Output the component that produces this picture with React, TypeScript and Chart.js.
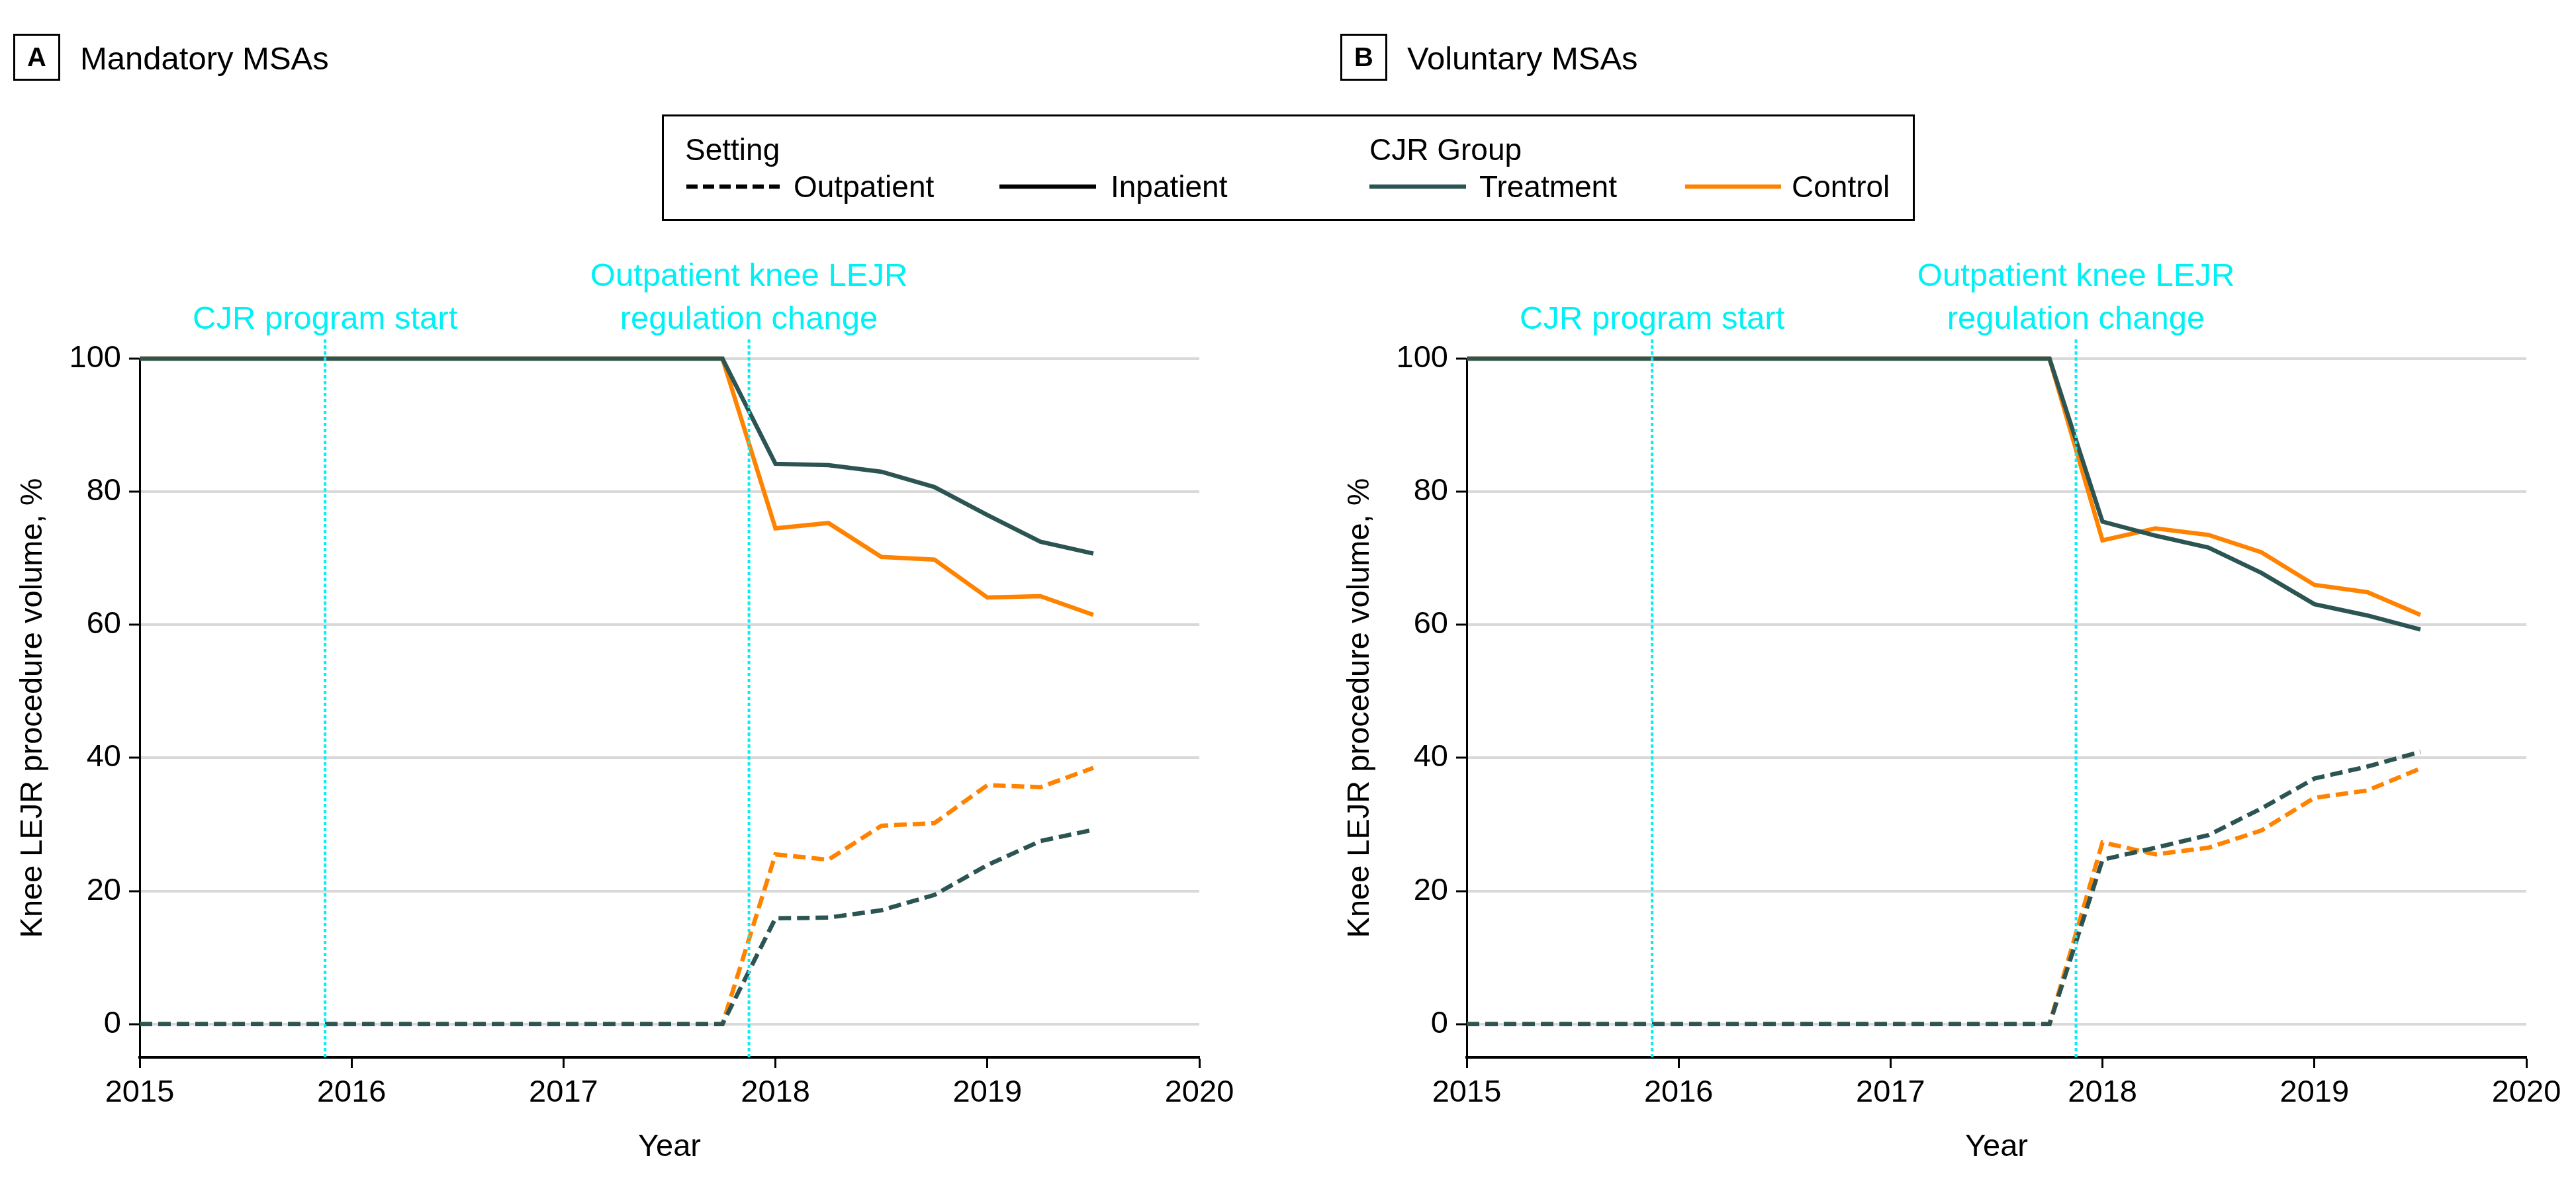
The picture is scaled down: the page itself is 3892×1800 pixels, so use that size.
import React, { useEffect, useRef } from "react";
import { Chart, registerables } from "chart.js";

Chart.register(...registerables);

const FONT = '"Liberation Sans", Arial, sans-serif';
const TEAL = "#2b5452";
const ORANGE = "#ff8300";
const CYAN = "#00f0f5";
const GRID = "#d9d9d9";

// Quarterly time points (year fractions)
const quarters = [
  2015, 2015.25, 2015.5, 2015.75, 2016, 2016.25, 2016.5, 2016.75, 2017, 2017.25,
  2017.5, 2017.75, 2018, 2018.25, 2018.5, 2018.75, 2019, 2019.25, 2019.5,
];

// Panel A – Mandatory MSAs
const mandatoryTreatmentInpatient = [
  100, 100, 100, 100, 100, 100, 100, 100, 100, 100, 100, 100, 84.2, 84.0, 83.0, 80.7, 76.5, 72.5, 70.7,
];
const mandatoryControlInpatient = [
  100, 100, 100, 100, 100, 100, 100, 100, 100, 100, 100, 100, 74.5, 75.3, 70.2, 69.8, 64.1, 64.3, 61.5,
];
const mandatoryTreatmentOutpatient = [
  0, 0, 0, 0, 0, 0, 0, 0, 0, 0, 0, 0, 15.9, 16.0, 17.1, 19.4, 23.9, 27.5, 29.2,
];
const mandatoryControlOutpatient = [
  0, 0, 0, 0, 0, 0, 0, 0, 0, 0, 0, 0, 25.5, 24.7, 29.8, 30.2, 35.9, 35.6, 38.5,
];

// Panel B – Voluntary MSAs
const voluntaryTreatmentInpatient = [
  100, 100, 100, 100, 100, 100, 100, 100, 100, 100, 100, 100, 75.5, 73.4, 71.6, 67.8, 63.1, 61.4, 59.3,
];
const voluntaryControlInpatient = [
  100, 100, 100, 100, 100, 100, 100, 100, 100, 100, 100, 100, 72.7, 74.5, 73.5, 70.9, 66.0, 64.9, 61.5,
];
const voluntaryTreatmentOutpatient = [
  0, 0, 0, 0, 0, 0, 0, 0, 0, 0, 0, 0, 24.7, 26.5, 28.4, 32.4, 36.9, 38.7, 40.9,
];
const voluntaryControlOutpatient = [
  0, 0, 0, 0, 0, 0, 0, 0, 0, 0, 0, 0, 27.3, 25.5, 26.5, 29.1, 34.0, 35.1, 38.4,
];

const xTicks = [2015, 2016, 2017, 2018, 2019, 2020];
const yTicks = [0, 20, 40, 60, 80, 100];
const eventYears = [2015.875, 2017.875];
const eventLabels = [["CJR program start"], ["Outpatient knee LEJR", "regulation change"]];

const xTitle = "Year";
const yTitle = "Knee LEJR procedure volume, %";

const DASH = [19, 9];

function toPoints(vals: number[]) {
  return vals.map((v, i) => ({ x: quarters[i], y: v }));
}

const eventPlugin = {
  id: "eventLines",
  afterDatasetsDraw(chart: any) {
    const { ctx, chartArea, scales } = chart;
    const x = scales.x;
    ctx.save();
    eventYears.forEach((yr, i) => {
      const px = x.getPixelForValue(yr);
      ctx.strokeStyle = CYAN;
      ctx.lineWidth = 4;
      ctx.setLineDash([5, 4]);
      ctx.beginPath();
      ctx.moveTo(px, chartArea.top - 29);
      ctx.lineTo(px, chartArea.bottom);
      ctx.stroke();
      ctx.setLineDash([]);
      ctx.fillStyle = CYAN;
      ctx.font = `49px ${FONT}`;
      ctx.textAlign = "center";
      ctx.textBaseline = "alphabetic";
      const lines = eventLabels[i];
      lines.forEach((l, j) => {
        ctx.fillText(l, px, chartArea.top - 45 - (lines.length - 1 - j) * 65);
      });
    });
    ctx.restore();
  },
};

function makeChart(canvas: HTMLCanvasElement, ti: number[], to: number[], ci: number[], co: number[]) {
  const line = (data: number[], color: string, dashed: boolean, label: string) => ({
    label,
    data: toPoints(data),
    borderColor: color,
    backgroundColor: color,
    borderWidth: 6.5,
    borderDash: dashed ? DASH : [],
    pointRadius: 0,
    tension: 0,
    fill: false,
    clip: false as any,
  });
  return new Chart(canvas, {
    type: "line",
    data: {
      datasets: [
        line(ti, TEAL, false, "Treatment inpatient"),
        line(to, TEAL, true, "Treatment outpatient"),
        line(ci, ORANGE, false, "Control inpatient"),
        line(co, ORANGE, true, "Control outpatient"),
      ],
    },
    options: {
      animation: false,
      responsive: false,
      devicePixelRatio: 1,
      layout: { padding: { top: 542, right: 75, left: 0, bottom: 0 } },
      plugins: { legend: { display: false }, tooltip: { enabled: false } },
      scales: {
        x: {
          type: "linear",
          min: 2015,
          max: 2020,
          afterBuildTicks: (s: any) => {
            s.ticks = xTicks.map((v) => ({ value: v }));
          },
          afterFit: (s: any) => {
            s.height = 202;
          },
          ticks: {
            callback: (v: any) => String(v),
            font: { family: FONT, size: 47 },
            color: "#000",
            padding: 10,
            maxRotation: 0,
            autoSkip: false,
          },
          grid: {
            drawOnChartArea: false,
            drawTicks: true,
            tickLength: 16,
            tickWidth: 3,
            tickColor: "#000",
          },
          border: { display: true, color: "#000", width: 4 },
          title: {
            display: true,
            text: xTitle,
            font: { family: FONT, size: 47 },
            color: "#000",
            padding: { top: 0, bottom: 38 },
          },
        },
        y: {
          type: "linear",
          min: -5,
          max: 100,
          afterBuildTicks: (s: any) => {
            s.ticks = yTicks.map((v) => ({ value: v }));
          },
          afterFit: (s: any) => {
            s.width = 211;
          },
          ticks: {
            callback: (v: any) => String(v),
            font: { family: FONT, size: 47 },
            color: "#000",
            padding: 12,
          },
          grid: {
            color: GRID,
            lineWidth: 4,
            drawTicks: true,
            tickLength: 16,
            tickWidth: 3,
            tickColor: "#000",
          },
          border: { display: true, color: "#000", width: 3 },
          title: {
            display: true,
            text: yTitle,
            font: { family: FONT, size: 47 },
            color: "#000",
            padding: { top: 22, bottom: 0 },
          },
        },
      },
    },
    plugins: [eventPlugin],
  } as any);
}

const abs = (s: React.CSSProperties): React.CSSProperties => ({ position: "absolute", whiteSpace: "nowrap", ...s });

export default function App() {
  const refA = useRef<HTMLCanvasElement>(null);
  const refB = useRef<HTMLCanvasElement>(null);

  useEffect(() => {
    const a = makeChart(
      refA.current!,
      mandatoryTreatmentInpatient,
      mandatoryTreatmentOutpatient,
      mandatoryControlInpatient,
      mandatoryControlOutpatient
    );
    const b = makeChart(
      refB.current!,
      voluntaryTreatmentInpatient,
      voluntaryTreatmentOutpatient,
      voluntaryControlInpatient,
      voluntaryControlOutpatient
    );
    return () => {
      a.destroy();
      b.destroy();
    };
  }, []);

  const legendText: React.CSSProperties = { fontSize: 46, lineHeight: "46px", color: "#000" };

  return (
    <div
      style={{
        position: "absolute",
        left: 0,
        top: 0,
        width: 3892,
        height: 1800,
        background: "#fff",
        overflow: "hidden",
        fontFamily: FONT,
      }}
    >
      <canvas ref={refA} width={1887} height={1800} style={abs({ left: 0, top: 0, width: 1887, height: 1800 })} />
      <canvas ref={refB} width={1887} height={1800} style={abs({ left: 2005, top: 0, width: 1887, height: 1800 })} />

      {/* Panel labels */}
      <div
        style={abs({
          left: 20,
          top: 51,
          width: 71,
          height: 71,
          boxSizing: "border-box",
          border: "3px solid #000",
          display: "flex",
          alignItems: "center",
          justifyContent: "center",
          fontWeight: 700,
          fontSize: 40,
        })}
      >
        A
      </div>
      <div style={abs({ left: 121, top: 64, fontSize: 49, lineHeight: "49px" })}>Mandatory MSAs</div>
      <div
        style={abs({
          left: 2025,
          top: 51,
          width: 71,
          height: 71,
          boxSizing: "border-box",
          border: "3px solid #000",
          display: "flex",
          alignItems: "center",
          justifyContent: "center",
          fontWeight: 700,
          fontSize: 40,
        })}
      >
        B
      </div>
      <div style={abs({ left: 2126, top: 64, fontSize: 49, lineHeight: "49px" })}>Voluntary MSAs</div>

      {/* Legend */}
      <div
        style={abs({
          left: 1000,
          top: 173,
          width: 1893,
          height: 161,
          boxSizing: "border-box",
          border: "3px solid #000",
        })}
      />
      <div style={abs({ left: 1035, top: 203, ...legendText })}>Setting</div>
      <div style={abs({ left: 2069, top: 203, ...legendText })}>CJR Group</div>
      <div style={abs({ left: 1199, top: 259, ...legendText })}>Outpatient</div>
      <div style={abs({ left: 1678, top: 259, ...legendText })}>Inpatient</div>
      <div style={abs({ left: 2235, top: 259, ...legendText })}>Treatment</div>
      <div style={abs({ left: 2707, top: 259, ...legendText })}>Control</div>
      <svg width={3892} height={400} style={abs({ left: 0, top: 0, pointerEvents: "none" })}>
        <line x1={1037} y1={282} x2={1178} y2={282} stroke="#000" strokeWidth={6.5} strokeDasharray="17 8" />
        <line x1={1510} y1={282} x2={1656} y2={282} stroke="#000" strokeWidth={6.5} />
        <line x1={2069} y1={282} x2={2215} y2={282} stroke={TEAL} strokeWidth={6.5} />
        <line x1={2546} y1={282} x2={2691} y2={282} stroke={ORANGE} strokeWidth={6.5} />
      </svg>
    </div>
  );
}
